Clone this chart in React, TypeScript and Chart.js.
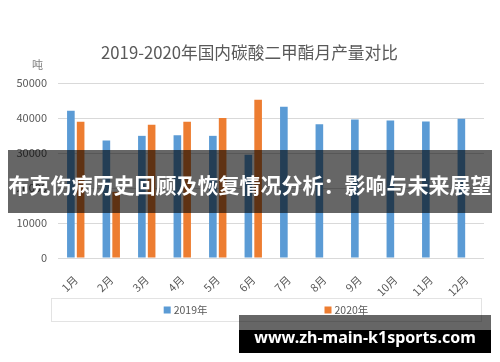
import React, { useEffect, useRef } from "react";
import { Chart, registerables } from "chart.js";

Chart.register(...registerables);

const months = ["1月", "2月", "3月", "4月", "5月", "6月", "7月", "8月", "9月", "10月", "11月", "12月"];
const series2019 = [42100, 33600, 34900, 35100, 34900, 29500, 43200, 38200, 39600, 39300, 39000, 39800];
const series2020 = [38900, 18900, 38100, 38900, 40000, 45200];
const seriesNames = ["2019年", "2020年"];
const seriesColors = ["#5b9bd5", "#ed7d31"];
const yTicks = [0, 10000, 20000, 30000, 40000, 50000];
const titleText = "2019-2020年国内碳酸二甲酯月产量对比";
const unitText = "吨";
const bannerText = "布克伤病历史回顾及恢复情况分析：影响与未来展望";
const watermarkText = "www.zh-main-k1sports.com";

const FONT = "'Noto Sans CJK SC', 'Noto Sans', sans-serif";
const TEXT = "#595959";

const extrasPlugin = {
  id: "extras",
  afterDraw(chart: any) {
    const ctx = chart.ctx;
    ctx.save();
    // title
    ctx.font = `16.7px ${FONT}`;
    ctx.fillStyle = TEXT;
    ctx.textAlign = "center";
    ctx.textBaseline = "middle";
    ctx.fillText(titleText, 249.5, 53);

    // unit label
    ctx.font = `11px ${FONT}`;
    ctx.fillStyle = "#7f7f7f";
    ctx.fillText(unitText, 37.5, 65);

    // legend box
    const bx = 51, by = 298, bw = 430, bh = 23;
    ctx.strokeStyle = "#e3e3e3";
    ctx.lineWidth = 1;
    ctx.strokeRect(bx + 0.5, by + 0.5, bw, bh);
    ctx.font = `10.5px ${FONT}`;
    const box = 7;
    const gapText = 3;
    const gapItems = 117;
    const ds = chart.data.datasets;
    const widths = ds.map((d: any) => box + gapText + ctx.measureText(d.label).width);
    const total = widths.reduce((a: number, b: number) => a + b, 0) + gapItems * (ds.length - 1);
    let x = bx + bw / 2 - total / 2;
    const cy = by + bh / 2 + 0.5;
    ctx.textAlign = "left";
    ctx.textBaseline = "middle";
    ds.forEach((d: any, i: number) => {
      ctx.fillStyle = d.backgroundColor;
      ctx.fillRect(x, cy - box / 2, box, box);
      ctx.fillStyle = TEXT;
      ctx.fillText(d.label, x + box + gapText, cy);
      x += widths[i] + gapItems;
    });
    ctx.restore();
  },
};

export default function App() {
  const ref = useRef<HTMLCanvasElement | null>(null);
  useEffect(() => {
    if (!ref.current) return;
    const chart = new Chart(ref.current, {
      type: "bar",
      data: {
        labels: months,
        datasets: [
          { label: seriesNames[0], data: series2019, backgroundColor: seriesColors[0] },
          { label: seriesNames[1], data: series2020, backgroundColor: seriesColors[1] },
        ],
      },
      options: {
        responsive: false,
        animation: false,
        datasets: { bar: { categoryPercentage: 0.55, barPercentage: 0.78 } } as any,
        layout: { padding: { left: 0, right: 16, top: 83, bottom: 64 } },
        plugins: {
          legend: { display: false },
          tooltip: { enabled: false },
          title: { display: false },
        },
        scales: {
          x: {
            grid: { display: false },
            border: { display: false },
            ticks: {
              color: TEXT,
              font: { family: FONT, size: 11 },
              minRotation: 45,
              maxRotation: 45,
              padding: 7,
              autoSkip: false,
            },
            afterFit: (s: any) => {
              s.height = 40;
            },
          },
          y: {
            min: 0,
            max: 50000,
            afterBuildTicks: (s: any) => {
              s.ticks = yTicks.map((v) => ({ value: v }));
            },
            grid: { color: "#d9d9d9", drawTicks: false },
            border: { display: false },
            ticks: {
              color: TEXT,
              font: { family: FONT, size: 11 },
              padding: 11,
              callback: (v: any) => String(v),
            },
            afterFit: (s: any) => {
              s.width = 58;
            },
          },
        },
      },
      plugins: [extrasPlugin],
    });
    return () => chart.destroy();
  }, []);

  return (
    <div style={{ position: "fixed", left: 0, top: 0, width: 500, height: 362, background: "#fff", overflow: "hidden" }}>
      <canvas ref={ref} width={500} height={362} style={{ position: "absolute", left: 0, top: 0, width: 500, height: 362 }} />
      <div
        style={{
          position: "absolute",
          left: 8,
          top: 150,
          width: 484,
          height: 63,
          background: "rgba(0,0,0,0.6)",
          color: "#fff",
          fontFamily: FONT,
          fontWeight: "bold",
          fontSize: 21,
          lineHeight: "63px",
          textAlign: "center",
          whiteSpace: "nowrap",
          letterSpacing: 0,
        }}
      >
        <span style={{ position: "relative", top: 3 }}>{bannerText}</span>
      </div>
      <div style={{ position: "absolute", left: 239, top: 315, width: 252, height: 38 }}>
        <div style={{ position: "absolute", left: 0, top: 0, width: 252, height: 15, background: "rgba(0,0,0,0.6)" }} />
        <div style={{ position: "absolute", left: 0, top: 15, width: 252, height: 23, background: "#000" }} />
        <div
          style={{
            position: "absolute",
            left: 0,
            top: 0,
            width: 252,
            height: 38,
            lineHeight: "38px",
            textAlign: "center",
            color: "#fff",
            fontFamily: "'Noto Sans', sans-serif",
            fontWeight: "bold",
            fontSize: 16,
            whiteSpace: "nowrap",
          }}
        >
          <span style={{ position: "relative", top: 3 }}>{watermarkText}</span>
        </div>
      </div>
    </div>
  );
}
